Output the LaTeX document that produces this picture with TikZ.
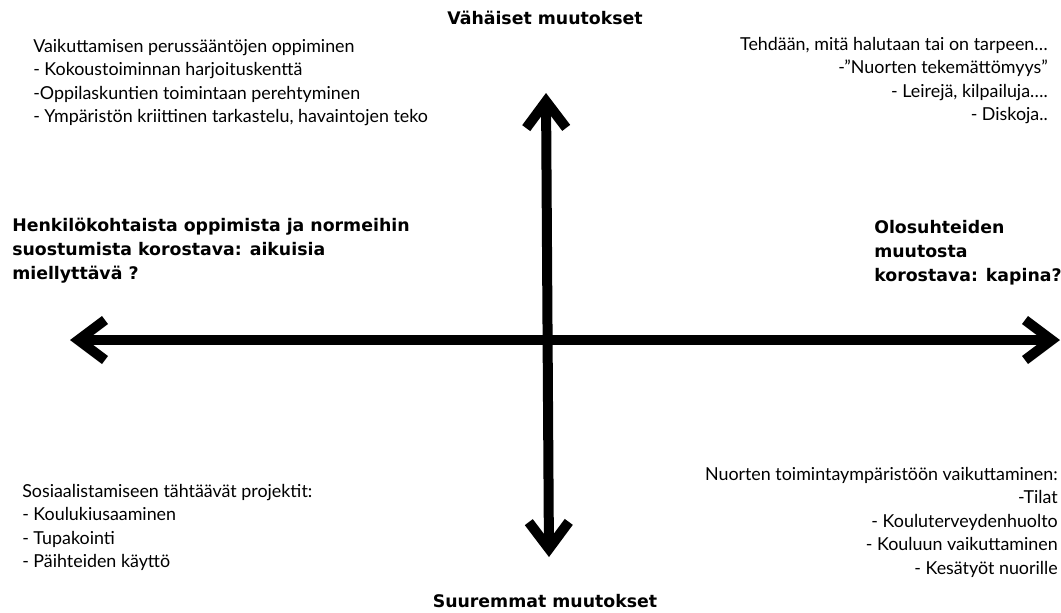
\documentclass[tikz,border=0pt]{standalone}
\usepackage{fontspec}
\setmainfont{Lato}
\newfontfamily\heavyfont{DejaVu Sans}
\usetikzlibrary{arrows.meta}
\begin{document}
\begin{tikzpicture}[x=0.75pt, y=-0.75pt,
		axis/.style={line width=7.5pt, {Straight Barb[length=20pt, width=30pt]}-{Straight Barb[length=20pt, width=30pt]}},
		plain/.style={inner sep=0pt, font=\fontsize{13.4}{17.6}\selectfont},
		heavy/.style={inner sep=0pt, font=\heavyfont\fontsize{13}{18}\selectfont\bfseries}]
		\useasboundingbox (0,0) rectangle (1061,612);
		% axes
		\coordinate(top) at (546,93);
		\coordinate(bottom) at (549,557);
		\coordinate(left) at (70,340);
		\coordinate(right) at (1060,340);
		\draw[axis](top) to (bottom);
		\draw[axis](left) to (right);
		% axis labels
		\node(small)[heavy] at (545,18){Vähäiset muutokset};
		\node(large)[heavy] at (545,601){Suuremmat muutokset};
		\node(personal)[heavy, anchor=north west, align=left] at (12,218){Henkilökohtaista oppimista ja normeihin\\suostumista korostava: aikuisia\\miellyttävä ?};
		\node(rebel)[heavy, anchor=north west, align=left] at (874,220){Olosuhteiden\\muutosta\\korostava: kapina?};
		% quadrants
		\node(rules)[plain, anchor=north west, align=left] at (33,39){Vaikuttamisen perussääntöjen oppiminen\\- Kokoustoiminnan harjoituskenttä\\-Oppilaskuntien toimintaan perehtyminen\\- Ympäristön kriittinen tarkastelu, havaintojen teko};
		\node(leisure)[plain, anchor=north east, align=right] at (1048,37){Tehdään, mitä halutaan tai on tarpeen…\\-”Nuorten tekemättömyys”\\- Leirejä, kilpailuja….\\- Diskoja..};
		\node(projects)[plain, anchor=north west, align=left] at (22,484){Sosiaalistamiseen tähtäävät projektit:\\- Koulukiusaaminen\\- Tupakointi\\- Päihteiden käyttö};
		\node(environment)[plain, anchor=north east, align=right] at (1058,467){Nuorten toimintaympäristöön vaikuttaminen:\\-Tilat\\- Kouluterveydenhuolto\\- Kouluun vaikuttaminen\\- Kesätyöt nuorille};
	\end{tikzpicture}
\end{document}
